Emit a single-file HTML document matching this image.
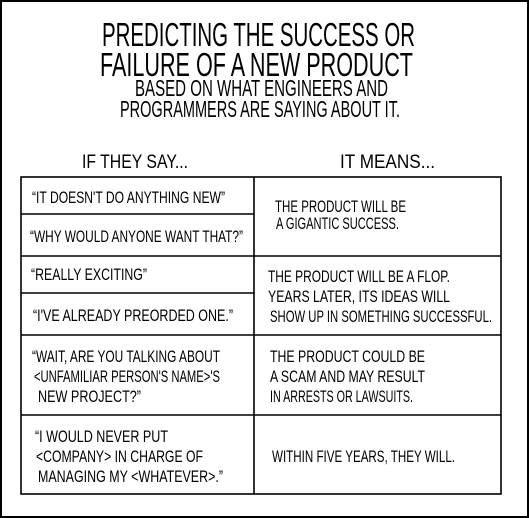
<!DOCTYPE html>
<html><head><meta charset="utf-8"><style>
html,body{margin:0;padding:0;background:#fff;}
svg{display:block;}
text{font-family:"Liberation Sans",sans-serif;fill:#000;}
</style></head><body>
<svg width="529" height="518" viewBox="0 0 529 518" xmlns="http://www.w3.org/2000/svg">
<rect x="1" y="1" width="527" height="516" fill="#fff" stroke="#000" stroke-width="2"/>
<g font-size="33">
<text x="102" y="46" textLength="313" lengthAdjust="spacingAndGlyphs">PREDICTING THE SUCCESS OR</text>
<text x="100" y="76" textLength="313" lengthAdjust="spacingAndGlyphs">FAILURE OF A NEW PRODUCT</text>
</g>
<g font-size="23">
<text x="135" y="96" textLength="253" lengthAdjust="spacingAndGlyphs">BASED ON WHAT ENGINEERS AND</text>
<text x="120" y="117" textLength="280" lengthAdjust="spacingAndGlyphs">PROGRAMMERS ARE SAYING ABOUT IT.</text>
</g>
<g font-size="19">
<text x="82" y="168" textLength="106" lengthAdjust="spacingAndGlyphs">IF THEY SAY...</text>
<text x="340" y="168" textLength="95" lengthAdjust="spacingAndGlyphs">IT MEANS...</text>
</g>
<g fill="none" stroke="#000" stroke-width="1.6">
<rect x="21" y="177" width="480" height="317"/>
<line x1="254" y1="177" x2="254" y2="494"/>
<line x1="21" y1="214" x2="254" y2="214"/>
<line x1="21" y1="256" x2="501" y2="256"/>
<line x1="21" y1="293" x2="254" y2="293"/>
<line x1="21" y1="335" x2="501" y2="335"/>
<line x1="21" y1="415" x2="501" y2="415"/>
</g>
<g font-size="17">
<text x="32" y="203" textLength="193" lengthAdjust="spacingAndGlyphs">“IT DOESN'T DO ANYTHING NEW”</text>
<text x="30" y="242" textLength="213" lengthAdjust="spacingAndGlyphs">“WHY WOULD ANYONE WANT THAT?”</text>
<text x="31" y="280" textLength="116" lengthAdjust="spacingAndGlyphs">“REALLY EXCITING”</text>
<text x="33" y="321" textLength="200" lengthAdjust="spacingAndGlyphs">“I'VE ALREADY PREORDED ONE.”</text>
<text x="32" y="362" textLength="188" lengthAdjust="spacingAndGlyphs">“WAIT, ARE YOU TALKING ABOUT</text>
<text x="34" y="382" textLength="186" lengthAdjust="spacingAndGlyphs">&lt;UNFAMILIAR PERSON'S NAME&gt;'S</text>
<text x="38" y="402" textLength="103" lengthAdjust="spacingAndGlyphs">NEW PROJECT?”</text>
<text x="35" y="442" textLength="133" lengthAdjust="spacingAndGlyphs">“I WOULD NEVER PUT</text>
<text x="36" y="462" textLength="167" lengthAdjust="spacingAndGlyphs">&lt;COMPANY&gt; IN CHARGE OF</text>
<text x="38" y="482" textLength="185" lengthAdjust="spacingAndGlyphs">MANAGING MY &lt;WHATEVER&gt;.”</text>
<text x="275" y="212" textLength="131" lengthAdjust="spacingAndGlyphs">THE PRODUCT WILL BE</text>
<text x="276" y="229" textLength="123" lengthAdjust="spacingAndGlyphs">A GIGANTIC SUCCESS.</text>
<text x="268" y="282" textLength="182" lengthAdjust="spacingAndGlyphs">THE PRODUCT WILL BE A FLOP.</text>
<text x="268" y="302" textLength="182" lengthAdjust="spacingAndGlyphs">YEARS LATER, ITS IDEAS WILL</text>
<text x="270" y="322" textLength="222" lengthAdjust="spacingAndGlyphs">SHOW UP IN SOMETHING SUCCESSFUL.</text>
<text x="270" y="362" textLength="155" lengthAdjust="spacingAndGlyphs">THE PRODUCT COULD BE</text>
<text x="270" y="382" textLength="155" lengthAdjust="spacingAndGlyphs">A SCAM AND MAY RESULT</text>
<text x="270" y="402" textLength="143" lengthAdjust="spacingAndGlyphs">IN ARRESTS OR LAWSUITS.</text>
<text x="272" y="462" textLength="183" lengthAdjust="spacingAndGlyphs">WITHIN FIVE YEARS, THEY WILL.</text>
</g>
</svg>
</body></html>
